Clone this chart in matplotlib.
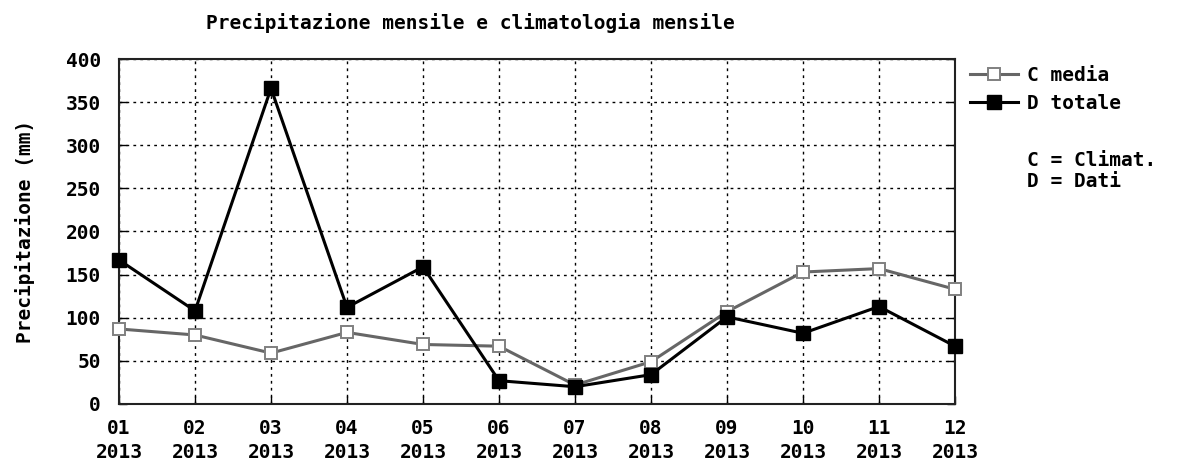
import matplotlib
matplotlib.use("Agg")
import matplotlib.pyplot as plt
from matplotlib.lines import Line2D

months = ["01", "02", "03", "04", "05", "06", "07", "08", "09", "10", "11", "12"]
year = "2013"
clim_media = [87, 80, 59, 83, 69, 67, 22, 49, 107, 153, 157, 133]
dati_totale = [167, 108, 366, 112, 159, 27, 20, 34, 101, 82, 113, 67]
yticks = [0, 50, 100, 150, 200, 250, 300, 350, 400]

FONT = "DejaVu Sans Mono"
FS = 14
plt.rcParams.update({"font.family": FONT, "font.weight": "bold", "font.size": FS})

GREY_STYLE = dict(color="#666666", linewidth=2.2, marker="s", markersize=8.5,
                  markerfacecolor="white", markeredgecolor="#808080",
                  markeredgewidth=1.4)
BLACK_STYLE = dict(color="black", linewidth=2.2, marker="s", markersize=10,
                   markerfacecolor="black", markeredgecolor="black")

fig = plt.figure(figsize=(11.89, 4.71), dpi=100)
ax = fig.add_axes([0.1001, 0.1423, 0.7031, 0.7324])

x = list(range(1, len(months) + 1))
ax.plot(x, clim_media, label="C media", zorder=3, clip_on=False, **GREY_STYLE)
ax.plot(x, dati_totale, label="D totale", zorder=4, clip_on=False, **BLACK_STYLE)

ax.set_xlim(1, 12)
ax.set_ylim(0, 400)
ax.set_xticks(x, [f"{m}\n{year}" for m in months])
ax.set_yticks(yticks)
ax.grid(True, color="black", linestyle=(0, (2, 3)), linewidth=1)
ax.tick_params(direction="in", length=6, width=1, right=True)
ax.tick_params(axis="x", pad=11)
ax.tick_params(axis="y", pad=13)
for s in ax.spines.values():
    s.set_linewidth(1.5)
    s.set_color("#222222")
for lbl in ax.get_xticklabels() + ax.get_yticklabels():
    lbl.set_fontweight("bold")
    lbl.set_linespacing(1.3)

ax.set_ylabel("Precipitazione (mm)", fontweight="bold", labelpad=22)
fig.text(0.396, 0.952, "Precipitazione mensile e climatologia mensile",
         ha="center", va="center", fontweight="bold")

handles = [Line2D([], [], **GREY_STYLE), Line2D([], [], **BLACK_STYLE)]
fig.legend(handles, ["C media", "D totale"], loc="upper left",
           bbox_to_anchor=(0.816, 0.86), frameon=False, handlelength=2.45,
           handletextpad=0.45, labelspacing=0.45, borderaxespad=0, borderpad=0,
           prop={"family": FONT, "weight": "bold", "size": FS})
fig.text(0.864, 0.637, "C = Climat.\nD = Dati", ha="left", va="center",
         fontweight="bold", linespacing=1.15)

fig.savefig("out.png", dpi=100, facecolor="white")
